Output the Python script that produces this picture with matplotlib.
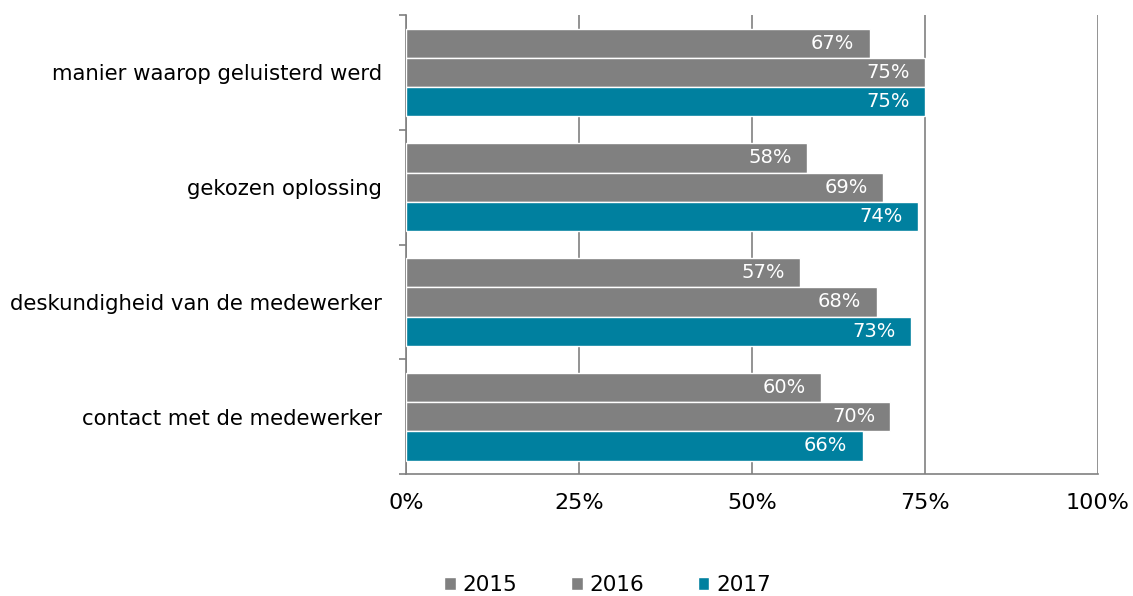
import numpy as np
import matplotlib.pyplot as plt
from matplotlib.ticker import FixedLocator

categories = ["manier waarop geluisterd werd", "gekozen oplossing",
              "deskundigheid van de medewerker", "contact met de medewerker"]
years = ["2015", "2016", "2017"]
v2015 = [67, 58, 57, 60]
v2016 = [75, 69, 68, 70]
v2017 = [75, 74, 73, 66]
colors = ["#808080", "#808080", "#00809f"]

fig = plt.figure(figsize=(11.33, 5.96), dpi=100)
ax = fig.add_axes([0.3583, 0.2047, 0.6108, 0.7701])

y = np.arange(len(categories))
h = 0.255
offsets = [-h, 0, h]
for vals, off, col, yr in zip([v2015, v2016, v2017], offsets, colors, years):
    bars = ax.barh(y + off, vals, height=h, color=col, edgecolor="white",
                   linewidth=1, label=yr, zorder=3)
    for b, v in zip(bars, vals):
        ax.text(v - 2.2, b.get_y() + b.get_height() / 2, f"{v}%", ha="right",
                va="center", color="white", fontsize=14, zorder=4)

ax.set_xlim(0, 100)
ax.set_ylim(3.5, -0.5)
ax.set_xticks([0, 25, 50, 75, 100])
ax.set_xticklabels(["0%", "25%", "50%", "75%", "100%"], fontsize=16)
ax.tick_params(axis="x", length=0, pad=14)
ax.grid(axis="x", color="#808080", linewidth=1.2, zorder=0)

ax.set_yticks(y)
ax.set_yticklabels(categories, fontsize=15.3)
ax.tick_params(axis="y", which="major", length=0, pad=17)
ax.yaxis.set_minor_locator(FixedLocator(np.arange(-0.5, 4, 1)))
ax.tick_params(axis="y", which="minor", length=5, color="#808080", width=1.2)

for s in ["top", "right"]:
    ax.spines[s].set_visible(False)
for s in ["left", "bottom"]:
    ax.spines[s].set_color("#808080")
    ax.spines[s].set_linewidth(1.2)

handles, labels = ax.get_legend_handles_labels()
fig.legend(handles, labels, loc="lower center", bbox_to_anchor=(0.536, -0.031),
           ncol=3, frameon=False, fontsize=15.5, handlelength=0.55,
           handleheight=0.55, handletextpad=0.3, columnspacing=2.5)

fig.savefig("out.png", dpi=100)
